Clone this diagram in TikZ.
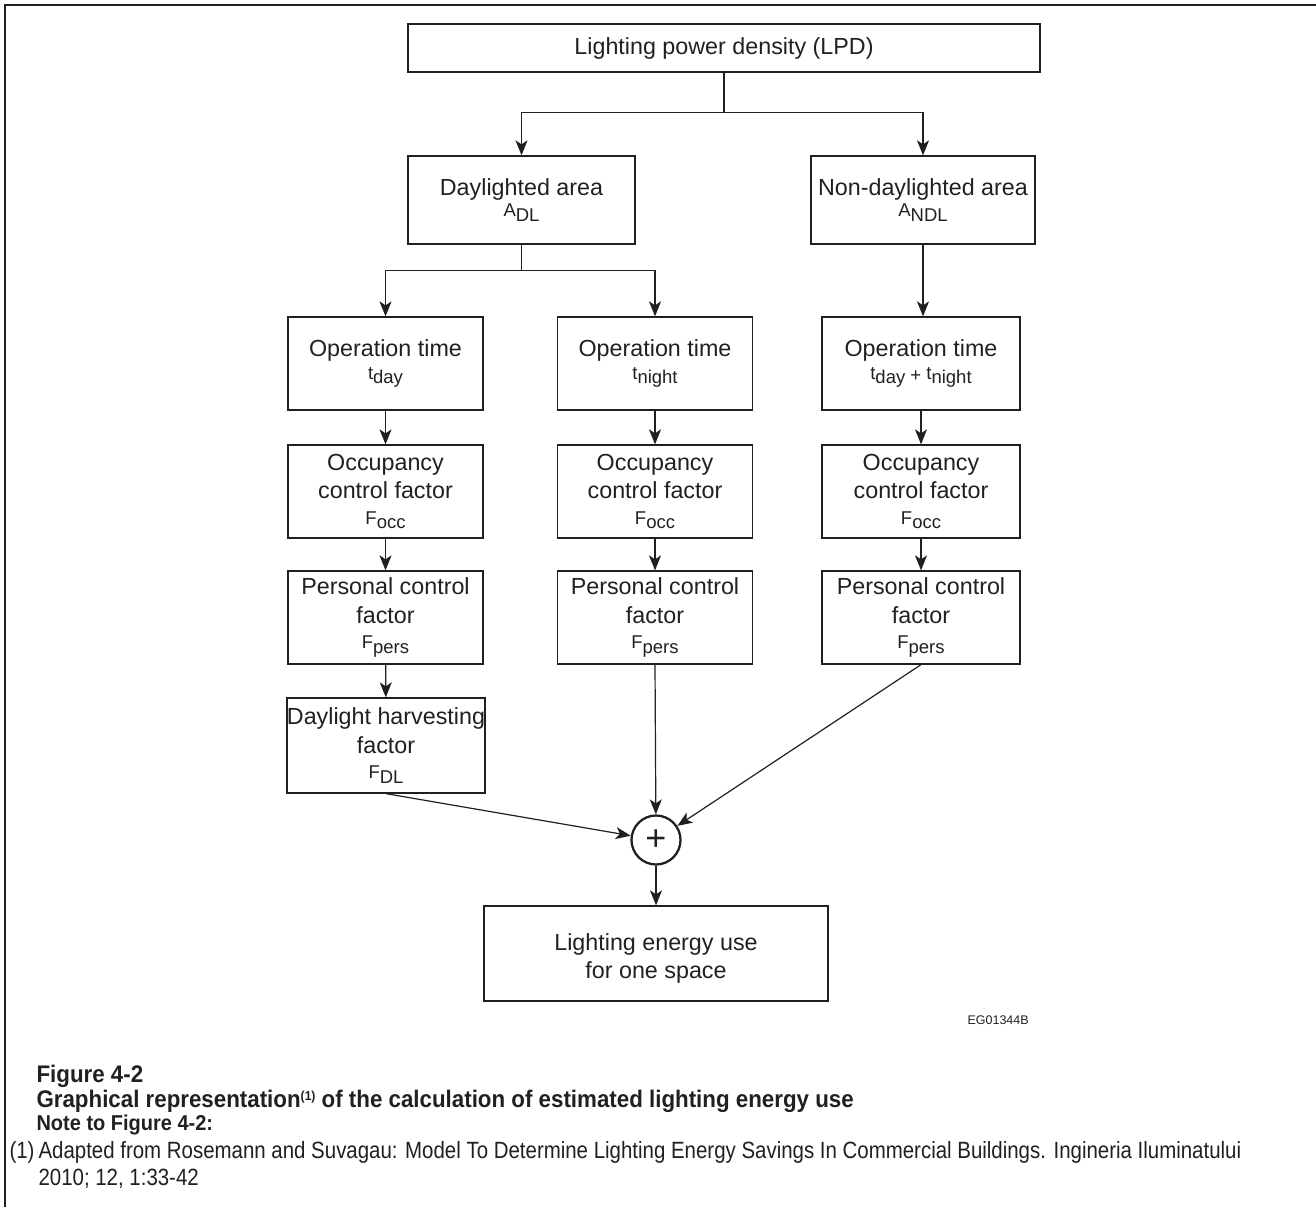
\documentclass[tikz,border=0pt]{standalone}
\usepackage{fontspec}
\setmainfont{Liberation Sans}
\newfontfamily\condfont[FakeStretch=0.87]{Liberation Sans}
\newfontfamily\condboldfont[FakeStretch=0.93]{Liberation Sans Bold}
\usetikzlibrary{arrows.meta}
\definecolor{ink}{HTML}{231F20}
% symbol followed by a lowered index, as in A_DL
\newcommand\symsub[2]{{\fontsize{18.5}{18.5}\selectfont #1\raisebox{-4.5pt}{#2}}}

\begin{document}
\begin{tikzpicture}[x=1pt,y=-1pt,
  box/.style={draw=ink, line width=1.3pt, text=ink, align=center, inner sep=0pt,
              font=\fontsize{23.3}{28.5}\selectfont},
  link/.style={draw=ink, line width=1.2pt},
  arr/.style={link, -{Stealth[length=15pt,width=12pt,inset=4pt]}},
  sumnode/.style={circle, draw=ink, line width=2.3pt, minimum size=49pt, inner sep=0pt,
                  text=ink, font=\fontsize{36}{36}\selectfont},
  caphead/.style={anchor=base west, text=ink, font=\condboldfont\fontsize{24}{24}\selectfont},
  notehead/.style={anchor=base west, text=ink, font=\condboldfont\fontsize{21.5}{21.5}\selectfont},
  captext/.style={anchor=base west, text=ink, font=\condfont\fontsize{23.5}{23.5}\selectfont}]

\useasboundingbox (0,0) rectangle (1316,1207);

% page frame (top and left rules)
\draw[ink, line width=2pt] (1316,5) -- (5,5) -- (5,1207);

% top level
\node[box, minimum width=632pt, minimum height=48pt] (lpd) at (724,48) {Lighting power density (LPD)};

% areas
\node[box, minimum width=227pt, minimum height=88pt] (dl)  at (521.5,200) {Daylighted area\\[-7pt]\symsub{A}{DL}};
\node[box, minimum width=224pt, minimum height=88pt] (ndl) at (923,200) {Non-daylighted area\\[-7pt]\symsub{A}{NDL}};

% operation time
\node[box, minimum width=195pt, minimum height=93pt] (op1) at (385.5,363.5) {Operation time\\[-6pt]\symsub{t}{day}};
\node[box, minimum width=195pt, minimum height=93pt] (op2) at (655,363.5) {Operation time\\[-6pt]\symsub{t}{night}};
\node[box, minimum width=198pt, minimum height=93pt] (op3) at (921,363.5) {Operation time\\[-6pt]\symsub{t}{day}{\fontsize{18.5}{18.5}\selectfont\ \raisebox{-2.5pt}{+}\ }\symsub{t}{night}};

% occupancy control
\node[box, minimum width=195pt, minimum height=93pt] (occ1) at (385.5,491.5) {Occupancy\\control factor\\[-3pt]\symsub{F}{occ}};
\node[box, minimum width=195pt, minimum height=93pt] (occ2) at (655,491.5) {Occupancy\\control factor\\[-3pt]\symsub{F}{occ}};
\node[box, minimum width=198pt, minimum height=93pt] (occ3) at (921,491.5) {Occupancy\\control factor\\[-3pt]\symsub{F}{occ}};

% personal control
\node[box, minimum width=195pt, minimum height=93pt] (pers1) at (385.5,617.5) {Personal control\\factor\\[-3pt]\symsub{F}{pers}};
\node[box, minimum width=195pt, minimum height=93pt] (pers2) at (655,617.5) {Personal control\\factor\\[-3pt]\symsub{F}{pers}};
\node[box, minimum width=198pt, minimum height=93pt] (pers3) at (921,617.5) {Personal control\\factor\\[-3pt]\symsub{F}{pers}};

% daylight harvesting
\node[box, minimum width=196pt, minimum height=95pt] (dh) at (386,745.5) {Daylight harvesting\\factor\\[-3pt]\symsub{F}{DL}};

% summation and result
\node[sumnode] (sum) at (656,840) {+};
\node[box, minimum width=344pt, minimum height=95pt] (out) at (656,953.5) {\rule{0pt}{27pt}Lighting energy use\\for one space};

% connectors
\draw[arr] (lpd.south) -- ++(0,40) -| (dl.north);
\draw[arr] (lpd.south) -- ++(0,40) -| (ndl.north);
\draw[arr] (dl.south) -- ++(0,26) -| (op1.north);
\draw[arr] (dl.south) -- ++(0,26) -| (op2.north);
\draw[arr] (ndl.south) -- (ndl.south |- op3.north);

\draw[arr] (op1) -- (occ1);
\draw[arr] (op2) -- (occ2);
\draw[arr] (op3) -- (occ3);
\draw[arr] (occ1) -- (pers1);
\draw[arr] (occ2) -- (pers2);
\draw[arr] (occ3) -- (pers3);
\draw[arr] (pers1) -- (dh);

\draw[arr] (dh.south) -- (sum);
\draw[arr] (pers2.south) -- (sum);
\draw[arr] (pers3.south) -- (sum);
\draw[arr] (sum) -- (out);

% drawing code
\node[anchor=west, text=ink, font=\fontsize{12.5}{12.5}\selectfont] (code) at (964,1020) {EG01344B};

% caption and note
\node[caphead] (figno) at (33,1082) {Figure 4-2};
\node[caphead] (figtitle) at (33,1107) {Graphical representation\raisebox{7pt}{\fontsize{13}{13}\selectfont(1)} of the calculation of estimated lighting energy use};
\node[notehead] (notehead) at (33,1130) {Note to Figure 4-2:};
\node[captext] (notemark) at (6,1158) {(1)};
\node[captext] (note1) at (35,1158) {Adapted from Rosemann and Suvagau: Model To Determine Lighting Energy Savings In Commercial Buildings. Ingineria Iluminatului};
\node[captext] (note2) at (35,1185) {2010; 12, 1:33-42};
\end{tikzpicture}
\end{document}
